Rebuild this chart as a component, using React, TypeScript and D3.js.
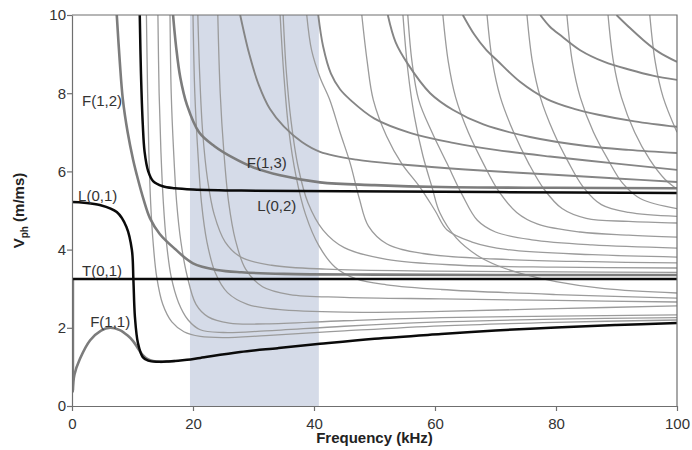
import React, { useEffect, useRef } from 'react';
import * as d3 from 'd3';

type Pt = [number, number];

// axis ticks and the shaded frequency window (kHz)
const xTicks = [0, 20, 40, 60, 80, 100];
const yTicks = [0, 2, 4, 6, 8, 10];
const shadedBand: Pt = [19.5, 40.8];

// black modes: [frequency kHz, Vph m/ms]
const t01: Pt[] = [[0, 3.25], [100, 3.25]];
const l01: Pt[] = [[0, 5.22], [2, 5.2], [4.6, 5.14], [7.4, 4.96], [9, 4.58], [9.9, 3.99], [10.15, 3.22], [10.4, 2.28], [10.9, 1.61], [11.7, 1.25], [12.6, 1.16], [14, 1.13], [16, 1.14], [19, 1.18], [21.2, 1.23], [27.8, 1.38], [34, 1.48], [41, 1.59], [50, 1.72], [61, 1.84], [70, 1.93], [80, 2.01], [90, 2.07], [100, 2.12]];
const l02: Pt[] = [[11.2, 10], [11.4, 8.5], [11.7, 7.2], [12, 6.5], [12.6, 6.0], [13.4, 5.75], [15, 5.62], [17, 5.57], [20, 5.54], [28, 5.51], [45, 5.49], [70, 5.47], [100, 5.45]];

// thick grey flexural modes
const f11: Pt[] = [[0.1, 0.35], [0.4, 0.8], [1.3, 1.2], [3, 1.68], [4.8, 1.93], [6.3, 2.0], [7.9, 1.94], [9.2, 1.8], [10.1, 1.66], [11, 1.45], [11.7, 1.3], [12.6, 1.19], [13.4, 1.15], [14.5, 1.13], [17, 1.15]];
const f12: Pt[] = [[7.4, 10], [7.9, 8.8], [8.4, 7.85], [9.2, 7.0], [10.1, 6.3], [10.9, 5.8], [11.8, 5.3], [12.9, 4.8], [14.5, 4.4], [17, 4.02], [20, 3.65], [24, 3.48], [28, 3.42], [35, 3.38], [50, 3.36], [70, 3.35], [100, 3.35]];
const f13: Pt[] = [[16.7, 10], [17.2, 9.2], [17.9, 8.4], [19, 7.7], [21, 7.0], [23.5, 6.65], [26.6, 6.35], [30, 6.1], [34.4, 5.9], [41, 5.72], [50, 5.65], [61, 5.6], [80, 5.58], [100, 5.57]];
const axisMode: Pt[] = [[0.15, 0.4], [0.15, 3.25]];

// medium grey, slowly bending modes
const gradualModes: Pt[][] = [
  [[27.8, 10], [29.3, 9], [30.9, 8.2], [32.7, 7.6], [35, 7.15], [38, 6.75], [41, 6.5], [47, 6.3], [55, 6.17], [65, 6.05], [79, 5.92], [90, 5.82], [100, 5.73]],
  [[40.7, 10], [41.5, 9.2], [42.8, 8.5], [44.3, 8.1], [46, 7.83], [50, 7.35], [56, 6.98], [63, 6.73], [70, 6.55], [79, 6.38], [90, 6.2], [100, 6.04]],
  [[52.2, 10], [53.5, 9.3], [55.5, 8.75], [59.2, 8.0], [63, 7.57], [68, 7.2], [75.7, 6.88], [85, 6.65], [92, 6.55], [100, 6.47]],
  [[64.6, 10], [66.5, 9.5], [68.5, 9.1], [70.2, 8.85], [74, 8.3], [78.5, 7.85], [83, 7.6], [87, 7.45], [93, 7.28], [100, 7.14]],
  [[77.4, 10], [79, 9.7], [81, 9.45], [84, 9.1], [88, 8.8], [92.2, 8.6], [96, 8.45], [100, 8.34]],
  [[90, 10], [92, 9.7], [94.5, 9.35], [97, 9.05], [100, 8.8]],
];

// thin grey modes dropping below the shear line
const lowerModes: Pt[][] = [
  [[12.3, 10], [12.5, 8], [12.7, 6.5], [13, 5.2], [13.4, 4.2], [14, 3.3], [15, 2.6], [16.5, 2.15], [18.5, 1.9], [21.2, 1.78], [25, 1.75], [32, 1.8], [45, 1.92], [61, 2.05], [80, 2.14], [100, 2.2]],
  [[14.2, 10], [14.4, 8], [14.7, 6.5], [15.1, 5.2], [15.6, 4.2], [16.4, 3.3], [17.6, 2.65], [19.2, 2.2], [21.2, 1.95], [25, 1.88], [32, 1.92], [45, 2.04], [61, 2.15], [80, 2.22], [100, 2.26]],
  [[16.2, 10], [16.4, 8], [16.8, 6.5], [17.3, 5.2], [18, 4.2], [19, 3.35], [20.5, 2.6], [22.5, 2.28], [26, 2.12], [32, 2.1], [45, 2.18], [61, 2.26], [80, 2.3], [100, 2.33]],
  [[20, 10], [20.3, 8], [20.8, 6.5], [21.4, 5.2], [22.3, 4.2], [23.7, 3.4], [25.7, 2.9], [29, 2.6], [34, 2.47], [45, 2.4], [61, 2.42], [80, 2.49], [100, 2.56]],
  [[24.1, 10], [24.5, 8], [25.1, 6.5], [25.9, 5.2], [27, 4.25], [28.7, 3.5], [31.5, 3.05], [36, 2.85], [45, 2.78], [61, 2.74], [80, 2.7], [100, 2.66]],
  [[34.4, 10], [35, 8.5], [35.8, 7.1], [37, 5.9], [38.6, 4.9], [40.8, 4.1], [43.5, 3.55], [47, 3.25], [52, 3.1], [61, 2.98], [80, 2.85], [100, 2.76]],
  [[54.7, 10], [55.5, 8.6], [56.6, 7.4], [58, 6.4], [59.5, 5.6], [60.8, 4.94], [63.5, 4.3], [67, 3.85], [70.5, 3.58], [74, 3.4], [80, 3.18], [88, 3.0], [100, 2.89]],
];

// thin grey modes settling above the shear line
const upperModes: Pt[][] = [
  [[20.8, 10], [21.1, 8.5], [21.6, 7], [22.4, 5.8], [23.5, 4.9], [25.3, 4.2], [28, 3.8], [33, 3.6], [42, 3.5], [60, 3.45], [80, 3.43], [100, 3.42]],
  [[34.9, 10], [35.4, 8.6], [36.2, 7.3], [37.4, 6.1], [39, 5.2], [41.5, 4.5], [45, 4.05], [52, 3.75], [64, 3.6], [80, 3.55], [100, 3.53]],
  [[38.8, 10], [39.6, 9.1], [41, 8.4], [42.6, 7.83], [44.3, 7.0], [46, 6.2], [47.5, 5.3], [49, 4.6], [52, 4.15], [58, 3.9], [70, 3.76], [86, 3.69], [100, 3.66]],
  [[47.9, 10], [48.8, 8.8], [49.8, 7.83], [52, 6.9], [54.5, 6.2], [57.5, 5.6], [60, 5.0], [62, 4.5], [66, 4.2], [72, 4.0], [86, 3.87], [100, 3.81]],
  [[55.5, 10], [56.2, 8.8], [57.3, 7.83], [59.5, 7.0], [62, 6.2], [64.5, 5.4], [67, 4.75], [70, 4.45], [76, 4.25], [86, 4.12], [100, 4.04]],
  [[61.3, 10], [62.2, 8.8], [63.4, 7.9], [65.5, 7.0], [68, 6.2], [70.5, 5.5], [73.5, 4.95], [77, 4.65], [84, 4.45], [92, 4.37], [100, 4.32]],
  [[68.6, 10], [69.5, 8.8], [70.8, 7.9], [73, 7.0], [75.5, 6.2], [78, 5.55], [81, 5.05], [85, 4.8], [92, 4.72], [100, 4.68]],
  [[75.2, 10], [76.1, 8.8], [77.4, 7.9], [79.6, 7.0], [82, 6.25], [84.5, 5.6], [87.5, 5.15], [92, 4.95], [100, 4.85]],
  [[81.8, 10], [82.7, 8.8], [84, 7.9], [86.2, 7.0], [88.6, 6.3], [91, 5.7], [94, 5.3], [100, 5.05]],
  [[88.6, 10], [89.5, 8.8], [90.8, 7.9], [93, 7.0], [95.5, 6.3], [98, 5.8], [100, 5.55]],
  [[95.5, 10], [96.4, 8.8], [97.7, 7.9], [100, 7.0]],
];

const modeLabels = [
  { text: 'F(1,2)', f: 1.65, v: 7.67 },
  { text: 'L(0,1)', f: 1.0, v: 5.24 },
  { text: 'T(0,1)', f: 1.65, v: 3.32 },
  { text: 'F(1,1)', f: 3.0, v: 2.02 },
  { text: 'F(1,3)', f: 28.9, v: 6.09 },
  { text: 'L(0,2)', f: 30.6, v: 4.99 },
];

const FONT = '"Liberation Sans", Arial, sans-serif';

const App = () => {
  const svgRef = useRef<SVGSVGElement>(null);

  useEffect(() => {
    const svg = d3.select(svgRef.current);
    svg.selectAll('*').remove();

    const width = 692, height = 450;
    const x = d3.scaleLinear().domain([0, 100]).range([72, 677]);
    const y = d3.scaleLinear().domain([0, 10]).range([406, 15]);

    svg.attr('width', width).attr('height', height);

    svg.append('defs').append('clipPath').attr('id', 'plot-clip')
      .append('rect')
      .attr('x', x(0)).attr('y', y(10))
      .attr('width', x(100) - x(0)).attr('height', y(0) - y(10));

    // shaded window
    svg.append('rect')
      .attr('x', x(shadedBand[0]))
      .attr('y', y(10))
      .attr('width', x(shadedBand[1]) - x(shadedBand[0]))
      .attr('height', y(0) - y(10))
      .attr('fill', '#d5dbe8');

    // centripetal catmull-rom keeps the knees of the steep modes smooth
    const line = d3.line<Pt>()
      .x(d => x(d[0]))
      .y(d => y(d[1]))
      .curve(d3.curveCatmullRom.alpha(0.5));

    const plot = svg.append('g').attr('clip-path', 'url(#plot-clip)').attr('fill', 'none');

    const drawSet = (sets: Pt[][], color: string, w: number) => {
      plot.append('g')
        .attr('stroke', color)
        .attr('stroke-width', w)
        .attr('stroke-linejoin', 'round')
        .selectAll('path')
        .data(sets)
        .enter()
        .append('path')
        .attr('d', d => line(d));
    };

    drawSet([...lowerModes, ...upperModes], '#9b9b9b', 1.3);
    drawSet(gradualModes, '#858585', 1.9);
    drawSet([f11, f12, f13, axisMode], '#7c7c7c', 2.6);
    drawSet([l01, l02, t01], '#0a0a0a', 2.5);

    // curve labels
    svg.append('g')
      .selectAll('text')
      .data(modeLabels)
      .enter()
      .append('text')
      .attr('x', d => x(d.f))
      .attr('y', d => y(d.v))
      .attr('font-family', FONT)
      .attr('font-size', 15)
      .attr('fill', '#333')
      .text(d => d.text);

    // frame
    const axisColor = '#6f6f6f';
    svg.append('path')
      .attr('d', `M${x(0)},${y(10)}H${x(100)}V${y(0)}`)
      .attr('fill', 'none')
      .attr('stroke', axisColor)
      .attr('stroke-width', 1.2);

    const xAxis = svg.append('g')
      .attr('transform', `translate(0,${y(0)})`)
      .call(d3.axisBottom(x).tickValues(xTicks).tickSize(5).tickSizeOuter(0));
    const yAxis = svg.append('g')
      .attr('transform', `translate(${x(0)},0)`)
      .call(d3.axisLeft(y).tickValues(yTicks).tickSize(5).tickSizeOuter(0));

    [xAxis, yAxis].forEach(a => {
      a.select('.domain').attr('stroke', axisColor).attr('stroke-width', 1.2);
      a.selectAll('.tick line').attr('stroke', axisColor).attr('stroke-width', 1.2);
      a.selectAll('.tick text')
        .attr('font-family', FONT)
        .attr('font-size', 15)
        .attr('fill', '#333');
    });
    xAxis.selectAll('.tick text').attr('dy', '1.0em');
    yAxis.selectAll('.tick text').attr('x', -6);

    // axis titles
    svg.append('text')
      .attr('x', (x(0) + x(100)) / 2)
      .attr('y', 443)
      .attr('text-anchor', 'middle')
      .attr('font-family', FONT)
      .attr('font-size', 15)
      .attr('font-weight', 'bold')
      .attr('fill', '#222')
      .text('Frequency (kHz)');

    const yTitle = svg.append('text')
      .attr('transform', `translate(24,${(y(0) + y(10)) / 2}) rotate(-90)`)
      .attr('text-anchor', 'middle')
      .attr('font-family', FONT)
      .attr('font-size', 15)
      .attr('font-weight', 'bold')
      .attr('fill', '#222');
    yTitle.append('tspan').text('V');
    yTitle.append('tspan').attr('font-size', 10).attr('dy', 4).text('ph');
    yTitle.append('tspan').attr('dy', -4).text(' (m/ms)');
  }, []);

  return (
    <svg ref={svgRef} style={{ position: 'absolute', left: 0, top: 0, background: '#fff' }} />
  );
};

export default App;
